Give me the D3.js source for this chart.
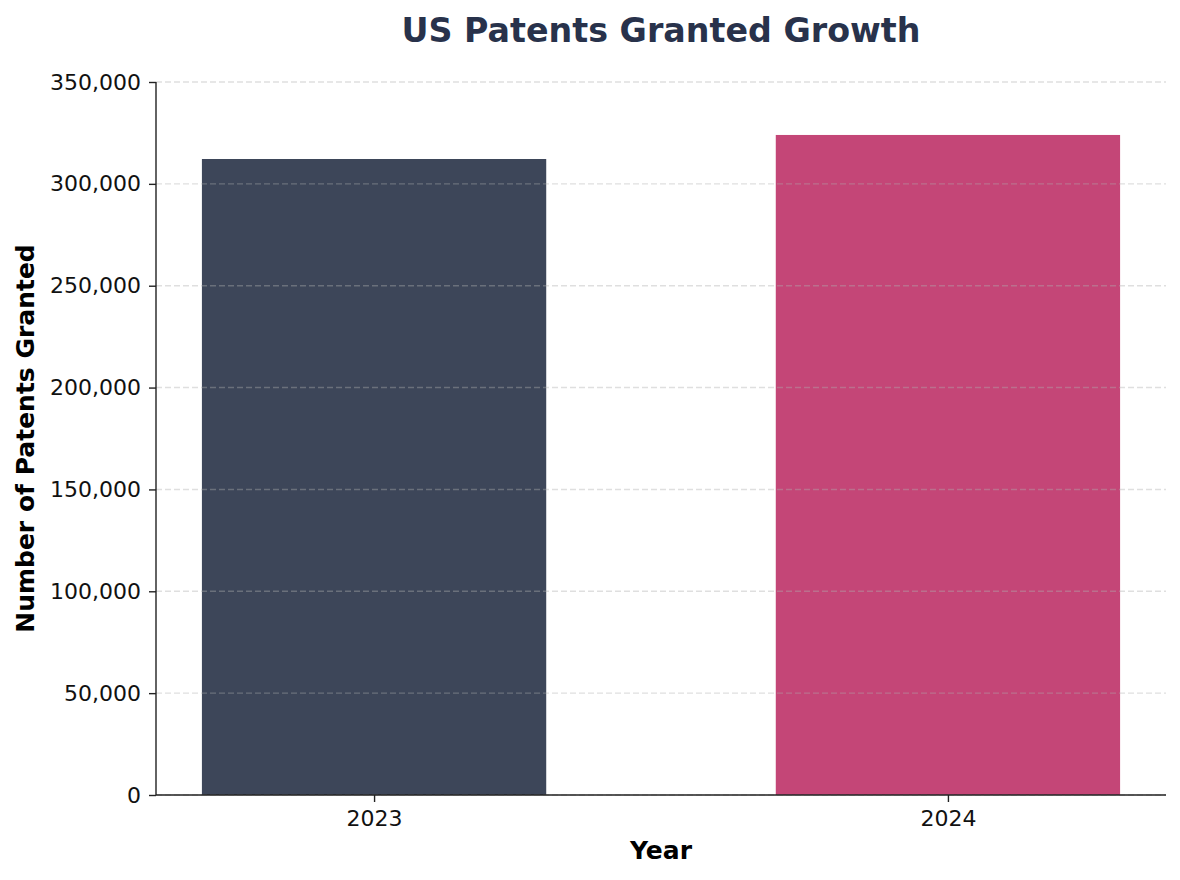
<!DOCTYPE html>
<meta charset="utf-8">
<script src="https://d3js.org/d3.v7.min.js"></script>
<style>
  body { margin: 0; background: #fff; }
  text { font-family: "DejaVu Sans", sans-serif; }
</style>
<body>
<div id="chart"></div>
<script>

var years = ["2023", "2024"];
var patents = [312200, 324000];
var barColors = ["#3d4659", "#c44677"];
var yTicks = [0, 50000, 100000, 150000, 200000, 250000, 300000, 350000];

var W = 1180, H = 880;
var margin = { top: 82, right: 14, bottom: 85, left: 156 };
var width = W - margin.left - margin.right;
var height = H - margin.top - margin.bottom;

var svg = d3.select("#chart")
  .append("svg")
    .attr("width", W)
    .attr("height", H);

var g = svg.append("g")
    .attr("transform", "translate(" + margin.left + "," + margin.top + ")");

// bar positions like matplotlib: index 0..n-1, width 0.6
var x = d3.scaleLinear()
  .domain([-0.38, years.length - 1 + 0.38])
  .range([0, width]);

var y = d3.scaleLinear()
  .domain([0, 350000])
  .range([height, 0]);

var fmt = d3.format(",");

// bars
g.selectAll("rect.bar")
  .data(years)
  .enter()
  .append("rect")
    .attr("class", "bar")
    .attr("x", function(d, i) { return x(i - 0.3); })
    .attr("width", function(d, i) { return x(i + 0.3) - x(i - 0.3); })
    .attr("y", function(d, i) { return y(patents[i]); })
    .attr("height", function(d, i) { return height - y(patents[i]); })
    .attr("fill", function(d, i) { return barColors[i]; });

// grid on top of bars
g.append("g")
  .selectAll("line")
  .data(yTicks)
  .enter()
  .append("line")
    .attr("x1", 0)
    .attr("x2", width)
    .attr("y1", function(d) { return y(d); })
    .attr("y2", function(d) { return y(d); })
    .attr("stroke", "#b0b0b0")
    .attr("stroke-opacity", 0.4)
    .attr("stroke-width", 1.4)
    .attr("stroke-dasharray", "6,3");

// axes
var yAxis = g.append("g")
  .call(d3.axisLeft(y).tickValues(yTicks).tickFormat(fmt).tickSize(7).tickPadding(8));

var xAxis = g.append("g")
  .attr("transform", "translate(0," + height + ")")
  .call(d3.axisBottom(x).tickValues(d3.range(years.length))
        .tickFormat(function(i) { return years[i]; }).tickSize(7).tickPadding(8));

[yAxis, xAxis].forEach(function(a) {
  a.attr("font-size", null).attr("font-family", null);
  a.select(".domain").attr("stroke", "#222").attr("stroke-width", 1.4);
  a.selectAll(".tick line").attr("stroke", "#222").attr("stroke-width", 1.4);
  a.selectAll(".tick text").attr("fill", "#111").style("font-size", "22px");
});
xAxis.select(".domain").attr("d", "M0,0H" + width);
yAxis.select(".domain").attr("d", "M0," + height + "V0");

// title
svg.append("text")
  .attr("x", 661)
  .attr("y", 42)
  .attr("text-anchor", "middle")
  .attr("fill", "#28324b")
  .style("font-size", "33.3px")
  .style("font-weight", "bold")
  .text("US Patents Granted Growth");

// axis labels
svg.append("text")
  .attr("x", margin.left + width / 2)
  .attr("y", 859)
  .attr("text-anchor", "middle")
  .attr("fill", "#000")
  .style("font-size", "25px")
  .style("font-weight", "bold")
  .text("Year");

svg.append("text")
  .attr("transform", "translate(34," + (margin.top + height / 2) + ") rotate(-90)")
  .attr("text-anchor", "middle")
  .attr("fill", "#000")
  .style("font-size", "25px")
  .style("font-weight", "bold")
  .text("Number of Patents Granted");

</script>
</body>
